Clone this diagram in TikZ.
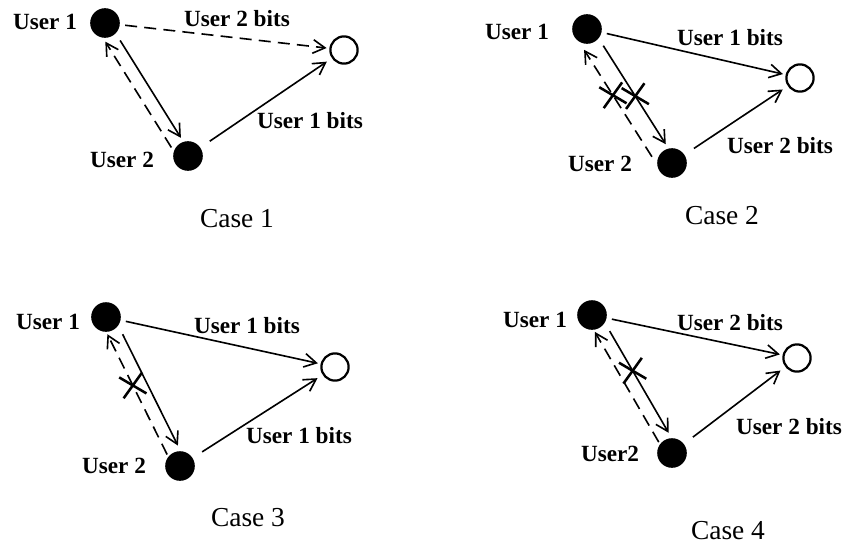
\documentclass[tikz,border=0pt]{standalone}
\usepackage{fontspec}
\setmainfont{Liberation Serif}
\usetikzlibrary{arrows.meta,calc,shapes.misc}

\tikzset{
  user/.style={circle,fill=black,minimum size=7.4mm,inner sep=0pt},
  rx/.style={circle,draw,line width=1.6pt,minimum size=6.8mm,inner sep=0pt},
  tag/.style={font=\fontsize{16.5}{18}\selectfont\bfseries},
  case/.style={font=\fontsize{19.5}{22}\selectfont},
  link/.style={line width=1.15pt,-{Straight Barb[length=3mm,width=3.4mm]}},
  lost/.style={link,dash pattern=on 3mm off 1.8mm},
  cut/.style={draw,solid,arrows=-,shorten <=0pt,shorten >=0pt,cross out,rotate=12,
    line width=1.8pt,minimum width=5.2mm,minimum height=4.7mm,inner sep=0pt},
}

\begin{document}
\begin{tikzpicture}[x=0.025cm,y=-0.025cm]
\useasboundingbox (0,0) rectangle (846,546);

% case 1
\node[user] (a1) at (105,23) {};
\node[user] (a2) at (188,156) {};
\node[rx] (ra) at (344,50) {};
\node[tag] (a1l) at (45,22) {User 1};
\node[tag] (a2l) at (122,160) {User 2};
\node[tag] (ra1) at (237,19) {User 2 bits};
\node[tag] (ra2) at (310,121) {User 1 bits};
\node[case] (ca) at (237,219) {Case 1};
\draw[lost,shorten <=1.3mm,shorten >=0.7mm] (a1) -- (ra);
\draw[link,shorten <=2.8mm,shorten >=1.5mm] (a2) -- (ra);
\draw[link,shorten <=5.7mm,shorten >=4.8mm] ($(a1)!0.9mm!90:(a2)$) -- ($(a2)!0.9mm!-90:(a1)$);
\draw[lost,shorten <=4mm,shorten >=4mm] ($(a2)!2.4mm!90:(a1)$) -- ($(a1)!2.4mm!-90:(a2)$);

% case 2
\node[user] (b1) at (587,29) {};
\node[user] (b2) at (672,163) {};
\node[rx] (rb) at (800,78) {};
\node[tag] (b1l) at (517,32) {User 1};
\node[tag] (b2l) at (600,164) {User 2};
\node[tag] (rb1) at (730,38) {User 1 bits};
\node[tag] (rb2) at (780,146) {User 2 bits};
\node[case] (cb) at (722,216) {Case 2};
\draw[link,shorten <=1.3mm,shorten >=0.7mm] (b1) -- (rb);
\draw[link,shorten <=2.8mm,shorten >=1.5mm] (b2) -- (rb);
\draw[link,shorten <=5.7mm,shorten >=4.8mm] ($(b1)!1.2mm!90:(b2)$) -- node[cut,pos=0.52] (xb1) {} ($(b2)!1.2mm!-90:(b1)$);
\draw[lost,shorten <=4mm,shorten >=4mm] ($(b2)!3.4mm!90:(b1)$) -- node[cut,pos=0.56] (xb2) {} ($(b1)!3.4mm!-90:(b2)$);

% case 3
\node[user] (c1) at (106,317) {};
\node[user] (c2) at (180,466) {};
\node[rx] (rc) at (335,367) {};
\node[tag] (c1l) at (48,322) {User 1};
\node[tag] (c2l) at (114,466) {User 2};
\node[tag] (rc1) at (247,326) {User 1 bits};
\node[tag] (rc2) at (299,436) {User 1 bits};
\node[case] (cc) at (248,518) {Case 3};
\draw[link,shorten <=1.3mm,shorten >=0.7mm] (c1) -- (rc);
\draw[link,shorten <=2.8mm,shorten >=1.5mm] (c2) -- (rc);
\draw[link,shorten <=5.7mm,shorten >=4.8mm] ($(c1)!1.8mm!90:(c2)$) -- ($(c2)!1.8mm!-90:(c1)$);
\draw[lost,shorten <=4mm,shorten >=4mm] ($(c2)!1.6mm!90:(c1)$) -- node[cut,pos=0.56] (xc) {} ($(c1)!1.6mm!-90:(c2)$);

% case 4
\node[user] (d1) at (592,315) {};
\node[user] (d2) at (672,453) {};
\node[rx] (rd) at (797,358) {};
\node[tag] (d1l) at (535,320) {User 1};
\node[tag] (d2l) at (610,454) {User2};
\node[tag] (rd1) at (730,323) {User 2 bits};
\node[tag] (rd2) at (789,427) {User 2 bits};
\node[case] (cd) at (728,531) {Case 4};
\draw[link,shorten <=1.3mm,shorten >=0.7mm] (d1) -- (rd);
\draw[link,shorten <=2.8mm,shorten >=1.5mm] (d2) -- (rd);
\draw[link,shorten <=5.7mm,shorten >=4.8mm] ($(d1)!1.8mm!90:(d2)$) -- node[cut,pos=0.43] (xd) {} ($(d2)!1.8mm!-90:(d1)$);
\draw[lost,shorten <=4mm,shorten >=4mm] ($(d2)!1.5mm!90:(d1)$) -- ($(d1)!1.5mm!-90:(d2)$);

\end{tikzpicture}
\end{document}
